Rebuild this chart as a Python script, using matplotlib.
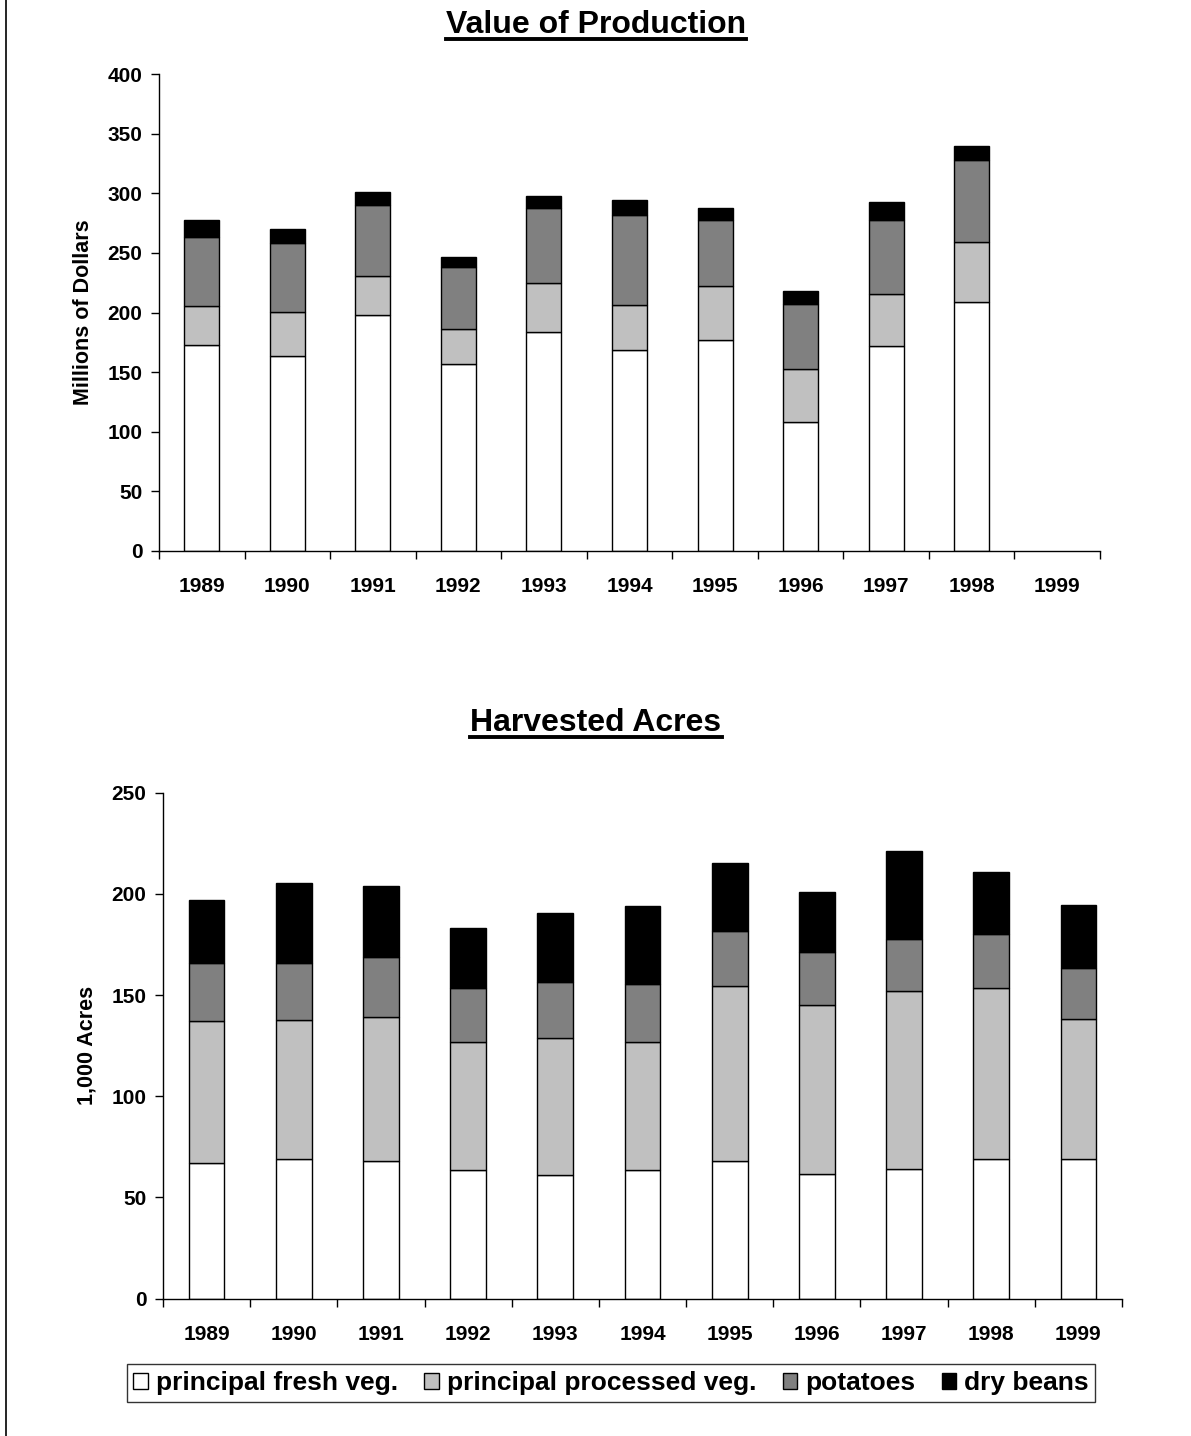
import numpy as np
import matplotlib
matplotlib.use('Agg')
import matplotlib.pyplot as plt
from matplotlib.lines import Line2D
from matplotlib.patches import Patch

plt.rcParams['font.family'] = ['Liberation Sans', 'DejaVu Sans']
plt.rcParams['font.weight'] = 'bold'

# データ
years = ['1989', '1990', '1991', '1992', '1993', '1994',
         '1995', '1996', '1997', '1998', '1999']
series_labels = ['principal fresh veg.', 'principal processed veg.',
                 'potatoes', 'dry beans']

# Value of Production (millions of dollars), 1999 not reported
value_fresh = [173.0, 163.5, 197.7, 156.8, 183.5, 168.8, 176.8, 108.2, 171.9, 209.0]
value_processed = [32.4, 36.9, 33.2, 29.4, 41.2, 37.5, 45.7, 44.6, 43.6, 50.4]
value_potatoes = [57.5, 57.9, 59.5, 52.0, 63.2, 75.7, 54.8, 54.2, 62.1, 68.2]
value_dry_beans = [14.7, 11.7, 10.4, 8.1, 10.1, 12.6, 10.0, 10.7, 15.1, 12.0]

# Harvested acres (1,000 acres)
acres_fresh = [67.1, 68.8, 68.1, 63.7, 61.2, 63.4, 68.1, 61.4, 64.2, 68.8, 68.8]
acres_processed = [70.1, 68.7, 71.2, 63.1, 67.6, 63.4, 86.5, 83.8, 87.8, 84.7, 69.5]
acres_potatoes = [28.6, 28.3, 29.4, 26.7, 27.6, 28.7, 27.1, 26.2, 25.6, 26.5, 25.1]
acres_dry_beans = [31.3, 39.7, 35.4, 29.6, 34.3, 38.7, 33.7, 29.4, 43.8, 30.7, 31.1]

colors = ['white', '#c0c0c0', '#808080', 'black']

W, H = 1191, 1436


def stacked_bars(ax, series, width):
    bottom = np.zeros(len(series[0]))
    for vals, color in zip(series, colors):
        vals = np.asarray(vals, dtype=float)
        x = np.arange(len(vals))
        ax.bar(x, vals, width, bottom=bottom, color=color,
               edgecolor='black', linewidth=1.0)
        bottom += vals


def style_axis(ax, ymax, step):
    ax.set_xlim(-0.5, len(years) - 0.5)
    ax.set_ylim(0, ymax)
    ax.set_yticks(np.arange(0, ymax + 1, step))
    ax.set_xticks(np.arange(-0.5, len(years)))
    ax.set_xticks(np.arange(len(years)), minor=True)
    ax.set_xticklabels(years, minor=True)
    ax.tick_params(axis='x', which='major', length=6, width=1,
                   direction='out', labelbottom=False)
    ax.tick_params(axis='x', which='minor', length=0, pad=19, labelsize=15)
    ax.tick_params(axis='y', length=6, width=1, pad=6, labelsize=15)
    for s in ['top', 'right']:
        ax.spines[s].set_visible(False)
    for s in ['left', 'bottom']:
        ax.spines[s].set_linewidth(1.0)


def underlined_title(fig, x, y, text, size):
    t = fig.text(x, y, text, ha='center', va='baseline',
                 fontsize=size, fontweight='bold')
    fig.canvas.draw()
    bb = t.get_window_extent().transformed(fig.transFigure.inverted())
    yline = y - 6 / H
    fig.add_artist(Line2D([bb.x0, bb.x1], [yline, yline], color='black',
                          lw=2.8, transform=fig.transFigure))


fig = plt.figure(figsize=(W / 100, H / 100), dpi=100)

# 上のグラフ
ax1 = fig.add_axes([159 / W, 1 - 551 / H, 941 / W, 477 / H])
stacked_bars(ax1, [value_fresh, value_processed, value_potatoes, value_dry_beans], 0.41)
style_axis(ax1, 400, 50)
ax1.set_ylabel('Millions of Dollars', fontsize=15.5, fontweight='bold')
ax1.yaxis.set_label_coords((94 - 159) / 941, 0.5)

# 下のグラフ
ax2 = fig.add_axes([163 / W, 1 - 1298.5 / H, 959 / W, 505.8 / H])
stacked_bars(ax2, [acres_fresh, acres_processed, acres_potatoes, acres_dry_beans], 0.41)
style_axis(ax2, 250, 50)
ax2.set_ylabel('1,000 Acres', fontsize=15.5, fontweight='bold')
ax2.yaxis.set_label_coords((97 - 163) / 959, 0.5)

# タイトル（下線付き）
underlined_title(fig, 596 / W, 1 - 33 / H, 'Value of Production', 23)
underlined_title(fig, 596 / W, 1 - 731 / H, 'Harvested Acres', 23)

# 凡例
handles = [Patch(facecolor=c, edgecolor='black', linewidth=1.0) for c in colors]
leg = fig.legend(handles, series_labels, loc='center',
                 bbox_to_anchor=(611 / W, 1 - 1383 / H), ncol=4,
                 frameon=True, fancybox=False, edgecolor='black',
                 handlelength=0.55, handleheight=0.55, handletextpad=0.3,
                 columnspacing=1.0, borderpad=0.25,
                 prop={'weight': 'bold', 'size': 19})
leg.get_frame().set_linewidth(1.0)

# 左側の枠線
fig.add_artist(Line2D([5.5 / W, 5.5 / W], [0, 1], color='black', lw=1.2,
                      transform=fig.transFigure))

fig.savefig('out.png', dpi=100)
